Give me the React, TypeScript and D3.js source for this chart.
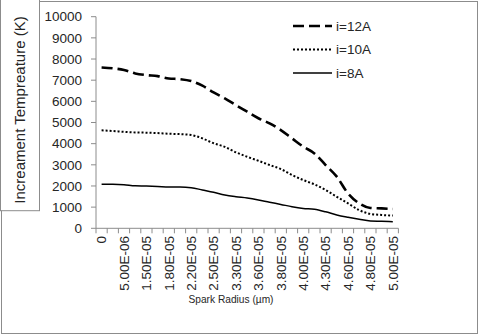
import React from 'react';
import * as d3 from 'd3';

// x categories (every second one is labelled on the axis)
const radii = [
  '0', '2.50E-06', '5.00E-06', '1.00E-05', '1.50E-05', '1.60E-05', '1.80E-05',
  '2.00E-05', '2.20E-05', '2.30E-05', '2.50E-05', '3.00E-05', '3.30E-05', '3.50E-05',
  '3.60E-05', '3.70E-05', '3.80E-05', '3.90E-05', '4.00E-05', '4.20E-05', '4.30E-05',
  '4.50E-05', '4.60E-05', '4.70E-05', '4.80E-05', '4.90E-05', '5.00E-05',
];

const temp12A = [
  7600, 7560, 7480, 7320, 7240, 7190, 7080, 7050, 6960, 6740, 6420, 6140, 5820, 5510,
  5200, 4960, 4640, 4250, 3860, 3540, 2990, 2440, 1650, 1180, 960, 940, 910,
];
const temp10A = [
  4630, 4600, 4560, 4530, 4520, 4500, 4470, 4450, 4410, 4250, 4020, 3850, 3590, 3380,
  3190, 2990, 2800, 2520, 2280, 2080, 1810, 1490, 1180, 860, 680, 630, 600,
];
const temp8A = [
  2080, 2080, 2060, 2010, 2000, 1980, 1950, 1950, 1920, 1810, 1700, 1570, 1490, 1430,
  1340, 1230, 1130, 1020, 940, 900, 780, 630, 520, 425, 345, 330, 310,
];

const yTicks = [0, 1000, 2000, 3000, 4000, 5000, 6000, 7000, 8000, 9000, 10000];

const series = [
  { name: 'i=12A', values: temp12A, dash: '11,5', width: 2.6 },
  { name: 'i=10A', values: temp10A, dash: '2,2', width: 2 },
  { name: 'i=8A', values: temp8A, dash: null, width: 1.5 },
];

const W = 480;
const H = 335;
const font = '"Liberation Sans", Arial, sans-serif';
const grey = '#8c8c8c';
const ink = '#262626';

export default function App() {
  const x = d3.scaleBand<string>().domain(radii).range([96, 398.4]);
  const y = d3.scaleLinear().domain([0, 10000]).range([228.3, 16.7]);
  const cx = (c: string) => (x(c) as number) + x.bandwidth() / 2;

  const line = d3
    .line<number>()
    .x((_, i) => cx(radii[i]))
    .y((d) => y(d))
    .curve(d3.curveMonotoneX);

  const tickXs = radii.map((c) => x(c) as number).concat([x.range()[1]]);

  return (
    <svg
      width={W}
      height={H}
      style={{ position: 'absolute', left: 0, top: 0, background: '#fff' }}
      fontFamily={font}
    >
      <rect x={1.5} y={1.5} width={476} height={332} fill="#fff" stroke={grey} />

      {/* y axis title box */}
      <rect x={0.5} y={-2} width={39} height={212.7} fill="#fff" stroke={grey} />
      <text
        transform="translate(25,110) rotate(-90)"
        textAnchor="middle"
        fontSize={15}
        fill={ink}
      >
        Increament Tempreature (K)
      </text>

      {/* y axis */}
      <line x1={96} x2={96} y1={y(10000)} y2={y(0)} stroke={grey} />
      {yTicks.map((t) => (
        <g key={t}>
          <line x1={91} x2={96} y1={y(t)} y2={y(t)} stroke={grey} />
          <text x={82} y={y(t)} dy="0.35em" textAnchor="end" fontSize={13.5} fill={ink}>
            {t}
          </text>
        </g>
      ))}

      {/* x axis */}
      <line x1={96} x2={398.4} y1={y(0)} y2={y(0)} stroke={grey} />
      {tickXs.map((tx, i) => (
        <line key={i} x1={tx} x2={tx} y1={y(0)} y2={y(0) + 5} stroke={grey} />
      ))}
      {radii.map((c, i) =>
        i % 2 === 0 ? (
          <text
            key={c}
            transform={`translate(${cx(c)},236) rotate(-90)`}
            textAnchor="end"
            dy="0.35em"
            fontSize={13.5}
            fill={ink}
          >
            {c}
          </text>
        ) : null
      )}
      <text
        x={231}
        y={303}
        textAnchor="middle"
        fontSize={11.5}
        fill={ink}
        textLength={85}
        lengthAdjust="spacingAndGlyphs"
      >
        Spark Radius (µm)
      </text>

      {/* series */}
      {series.map((s) => (
        <path
          key={s.name}
          d={line(s.values) as string}
          fill="none"
          stroke="#000"
          strokeWidth={s.width}
          strokeDasharray={s.dash ?? undefined}
        />
      ))}

      {/* legend */}
      {series.map((s, i) => {
        const ly = 26 + i * 23.5;
        return (
          <g key={s.name}>
            <line
              x1={293}
              x2={332}
              y1={ly}
              y2={ly}
              stroke="#000"
              strokeWidth={s.width}
              strokeDasharray={s.dash ?? undefined}
            />
            <text x={336} y={ly} dy="0.35em" fontSize={13.5} fill={ink}>
              {s.name}
            </text>
          </g>
        );
      })}
    </svg>
  );
}
